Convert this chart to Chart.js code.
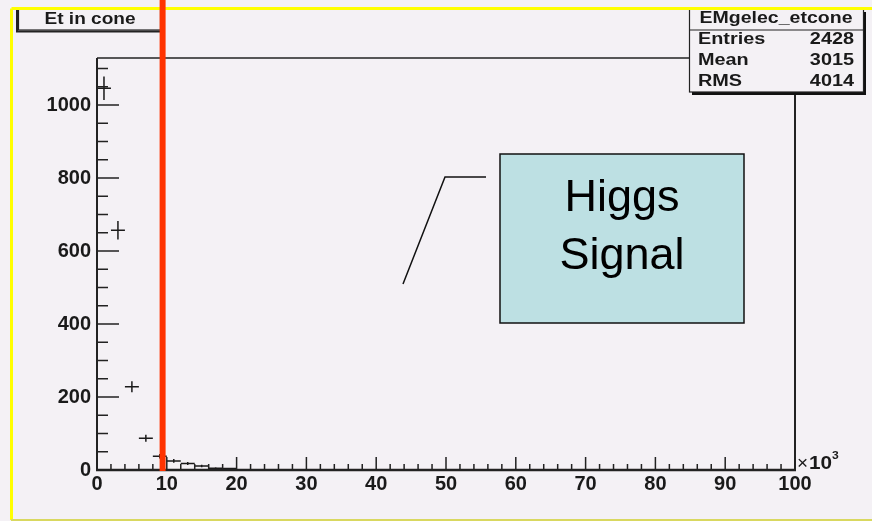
<!DOCTYPE html>
<html><head><meta charset="utf-8">
<script src="https://cdn.jsdelivr.net/npm/chart.js@4/dist/chart.umd.min.js"></script>
<style>html,body{margin:0;padding:0;background:#f4f1f5;overflow:hidden}canvas{display:block}</style>
</head><body>
<canvas id="c" width="872" height="521"></canvas>
<script>
// ---- data (x in units of 10^3) ----
const binCenters = [1, 3, 5, 7, 9, 11, 13, 15, 17, 19, 23, 45];
const counts     = [1046, 657, 228, 87, 38, 25, 18, 11, 5, 4, 1, 1];
const binHalfWidth = 1;
const xTickLabels = [0, 10, 20, 30, 40, 50, 60, 70, 80, 90, 100];
const yTickLabels = [0, 200, 400, 600, 800, 1000];
const cutValue = 9.4;
const histTitle = "Et in cone";
const statsName = "EMgelec_etcone";
const statsLabels = ["Entries", "Mean", "RMS"];
const statsValues = ["2428", "3015", "4014"];
const calloutLines = ["Higgs", "Signal"];

const BG = '#f4f1f5';
const INK = '#1a1a1a';

function stretchText(ctx, txt, x, y, font, sx, align) {
  ctx.save();
  ctx.font = font;
  ctx.textBaseline = 'alphabetic';
  const w = ctx.measureText(txt).width * sx;
  let x0 = x;
  if (align === 'center') x0 = x - w / 2;
  else if (align === 'right') x0 = x - w;
  ctx.translate(x0, y);
  ctx.scale(sx, 1);
  ctx.textAlign = 'left';
  ctx.fillText(txt, 0, 0);
  ctx.restore();
}

const decor = {
  id: 'decor',
  beforeDraw(chart) {
    const ctx = chart.ctx;
    ctx.save();
    ctx.fillStyle = BG;
    ctx.fillRect(0, 0, chart.width, chart.height);
    ctx.restore();
  },
  afterDatasetsDraw(chart) {
    const ctx = chart.ctx;
    const xs = chart.scales.x, ys = chart.scales.y;
    const a = chart.chartArea;
    ctx.save();
    // error-bar markers
    ctx.beginPath();
    ctx.rect(a.left, a.top, a.right - a.left, a.bottom - a.top);
    ctx.clip();
    ctx.strokeStyle = INK;
    ctx.lineWidth = 1.5;
    const ds = chart.data.datasets[0].data;
    ds.forEach(p => {
      const yp = ys.getPixelForValue(p.y);
      const x1 = xs.getPixelForValue(p.x - binHalfWidth);
      const x2 = xs.getPixelForValue(p.x + binHalfWidth);
      const xp = xs.getPixelForValue(p.x);
      const e = Math.sqrt(p.y);
      ctx.beginPath();
      ctx.moveTo(x1, yp); ctx.lineTo(x2, yp);
      ctx.moveTo(xp, ys.getPixelForValue(p.y + e));
      ctx.lineTo(xp, ys.getPixelForValue(p.y - e));
      ctx.stroke();
    });
    ctx.restore();

    ctx.save();
    ctx.strokeStyle = '#222';
    // frame
    ctx.lineWidth = 1.5;
    ctx.beginPath();
    ctx.moveTo(a.left, a.top); ctx.lineTo(a.right, a.top);
    ctx.stroke();
    ctx.lineWidth = 2;
    ctx.beginPath();
    ctx.moveTo(a.right, a.top); ctx.lineTo(a.right, a.bottom);
    ctx.moveTo(a.left, a.top); ctx.lineTo(a.left, a.bottom);
    ctx.stroke();
    ctx.lineWidth = 2.5;
    ctx.beginPath();
    ctx.moveTo(a.left - 1, a.bottom); ctx.lineTo(a.right + 1, a.bottom);
    ctx.stroke();
    // inward ticks
    ctx.lineWidth = 1.5;
    ctx.beginPath();
    for (let v = 0; v <= xs.max + 1e-9; v += 2) {
      const px = xs.getPixelForValue(v);
      const len = (v % 10 === 0) ? 13 : 6;
      ctx.moveTo(px, a.bottom); ctx.lineTo(px, a.bottom - len);
    }
    for (let v = 0; v <= ys.max; v += 50) {
      const py = ys.getPixelForValue(v);
      const len = (v % 200 === 0) ? 22 : 11;
      ctx.moveTo(a.left, py); ctx.lineTo(a.left + len, py);
    }
    ctx.stroke();

    // x10^3
    ctx.fillStyle = INK;
    ctx.font = '19px "Liberation Sans", Arial, sans-serif';
    ctx.textBaseline = 'alphabetic';
    ctx.textAlign = 'left';
    ctx.fillText('\u00d7', a.right + 2, a.bottom - 1);
    stretchText(ctx, '10', a.right + 14, a.bottom - 1, 'bold 18px "Liberation Sans", Arial, sans-serif', 1.15, 'left');
    stretchText(ctx, '3', a.right + 37, a.bottom - 11, 'bold 11px "Liberation Sans", Arial, sans-serif', 1.1, 'left');

    // title box
    const ty0 = 9;
    ctx.fillStyle = BG;
    ctx.fillRect(18, ty0, 143, 30 - ty0);
    ctx.lineWidth = 1.2;
    ctx.strokeStyle = '#222';
    ctx.strokeRect(18.5, ty0, 142, 30 - ty0);
    ctx.lineWidth = 2;
    ctx.beginPath();
    ctx.moveTo(17, ty0); ctx.lineTo(17, 31.5); ctx.lineTo(161, 31.5);
    ctx.stroke();
    ctx.fillStyle = INK;
    stretchText(ctx, histTitle, 90, 24, 'bold 16px "Liberation Sans", Arial, sans-serif', 1.19, 'center');

    // stats box
    const sx0 = 689, sx1 = 863, sy0 = 9, sy1 = 92;
    ctx.fillStyle = '#111';
    ctx.fillRect(sx0 + 3, sy0 + 3, sx1 - sx0, sy1 - sy0);
    ctx.fillStyle = BG;
    ctx.fillRect(sx0, sy0, sx1 - sx0, sy1 - sy0);
    ctx.lineWidth = 1.2;
    ctx.strokeRect(sx0 + 0.5, sy0, sx1 - sx0, sy1 - sy0);
    ctx.beginPath();
    ctx.moveTo(sx0, 30); ctx.lineTo(sx1, 30);
    ctx.stroke();
    ctx.fillStyle = INK;
    const sf = 'bold 16px "Liberation Sans", Arial, sans-serif';
    stretchText(ctx, statsName, (sx0 + sx1) / 2, 23, sf, 1.22, 'center');
    const rowY = [44, 65, 86];
    statsLabels.forEach((l, i) => {
      stretchText(ctx, l, 698, rowY[i], sf, 1.24, 'left');
      stretchText(ctx, statsValues[i], 854, rowY[i], sf, 1.24, 'right');
    });

    // callout line + Higgs box
    ctx.strokeStyle = '#111';
    ctx.lineWidth = 1.5;
    ctx.beginPath();
    ctx.moveTo(403, 284); ctx.lineTo(445, 177); ctx.lineTo(486, 177);
    ctx.stroke();
    ctx.fillStyle = '#bde0e3';
    ctx.fillRect(500, 154, 244, 169);
    ctx.strokeStyle = '#111';
    ctx.lineWidth = 1.5;
    ctx.strokeRect(500, 154, 244, 169);
    ctx.fillStyle = '#000';
    ctx.font = '45px "Liberation Sans", Arial, sans-serif';
    ctx.textAlign = 'center';
    ctx.textBaseline = 'alphabetic';
    ctx.fillText(calloutLines[0], 622, 211);
    ctx.fillText(calloutLines[1], 622, 269);

    // yellow frame
    ctx.strokeStyle = '#ffff00';
    ctx.lineWidth = 3;
    ctx.beginPath();
    ctx.moveTo(11.5, 8.5); ctx.lineTo(872, 8.5);
    ctx.moveTo(11.5, 8.5); ctx.lineTo(11.5, 520);
    ctx.stroke();
    ctx.strokeStyle = '#d9d860';
    ctx.lineWidth = 2;
    ctx.beginPath();
    ctx.moveTo(11, 520); ctx.lineTo(872, 520);
    ctx.stroke();

    // cut line
    const cx = xs.getPixelForValue(cutValue);
    ctx.strokeStyle = '#ff3300';
    ctx.lineWidth = 6;
    ctx.beginPath();
    ctx.moveTo(cx, 0); ctx.lineTo(cx, a.bottom + 1);
    ctx.stroke();
    ctx.restore();
  }
};

const tickFont = { family: '"Liberation Sans", Arial, sans-serif', size: 20, weight: 'bold' };

new Chart(document.getElementById('c'), {
  type: 'scatter',
  data: {
    datasets: [{
      label: histTitle,
      data: binCenters.map((x, i) => ({ x: x, y: counts[i] })),
      pointRadius: 0,
      pointHoverRadius: 0,
      showLine: false
    }]
  },
  options: {
    responsive: false,
    animation: false,
    devicePixelRatio: 1,
    layout: { padding: { top: 58, right: 77, left: 0, bottom: 0 } },
    plugins: { legend: { display: false }, tooltip: { enabled: false }, title: { display: false } },
    scales: {
      x: {
        type: 'linear', min: 0, max: 100,
        grid: { display: false, drawTicks: false },
        border: { display: false },
        afterFit: s => { s.height = 51; },
        afterBuildTicks: s => { s.ticks = xTickLabels.map(v => ({ value: v })); },
        ticks: { font: tickFont, color: INK, padding: 2, maxRotation: 0, autoSkip: false,
                 callback: v => String(v) }
      },
      y: {
        type: 'linear', min: 0, max: 1129,
        grid: { display: false, drawTicks: false },
        border: { display: false },
        afterFit: s => { s.width = 97; },
        afterBuildTicks: s => { s.ticks = yTickLabels.map(v => ({ value: v })); },
        ticks: { font: tickFont, color: INK, padding: 6, autoSkip: false,
                 callback: v => String(v) }
      }
    }
  },
  plugins: [decor]
});
</script>
</body></html>
